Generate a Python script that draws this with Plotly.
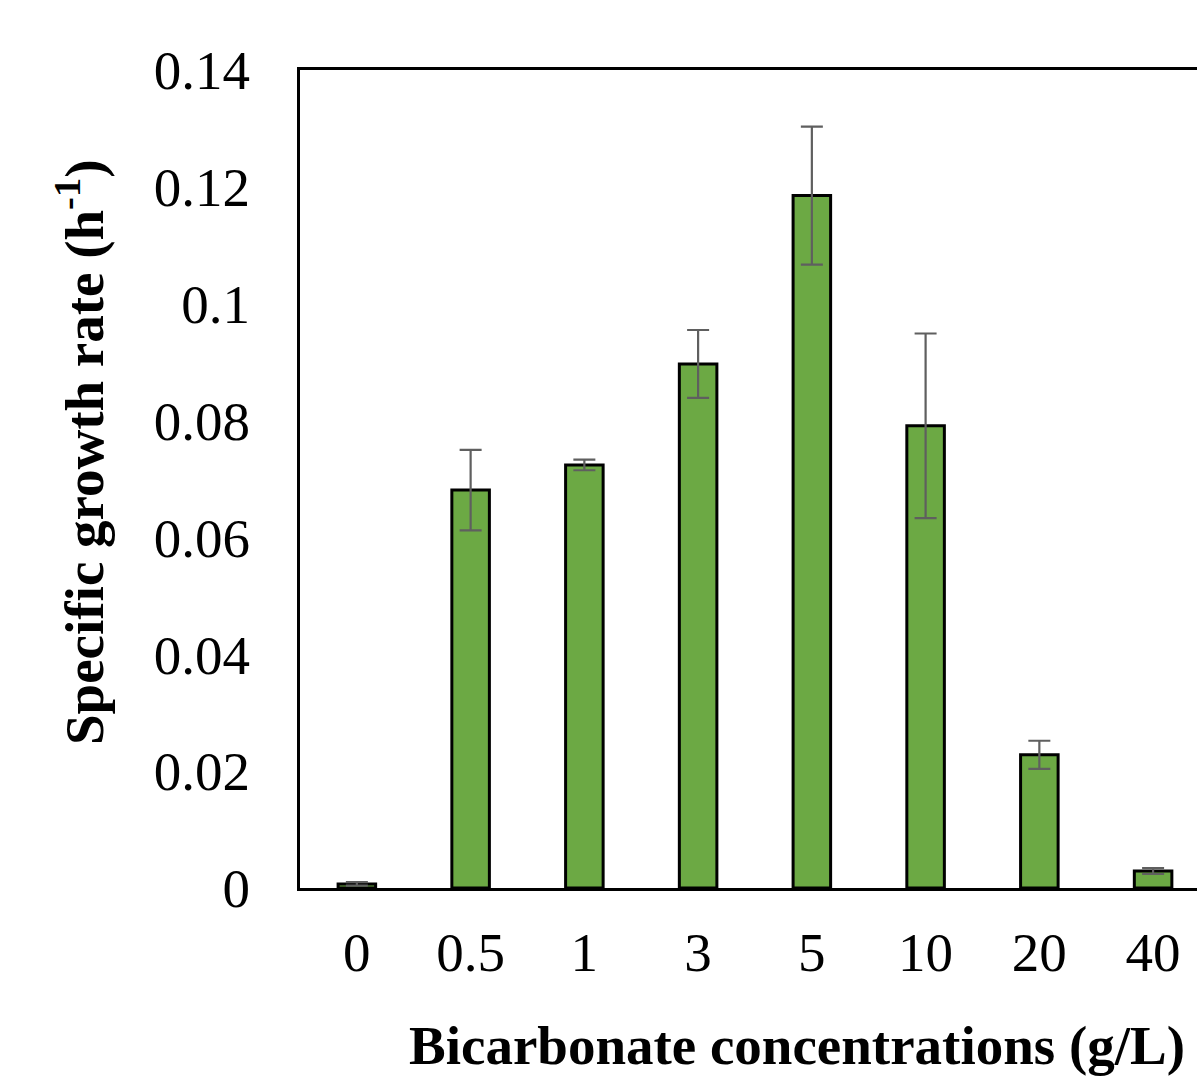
import plotly.graph_objects as go

categories = ["0", "0.5", "1", "3", "5", "10", "20", "40"]
growth_rate = [0.0007, 0.0681, 0.0724, 0.0897, 0.1185, 0.0791, 0.0228, 0.0029]
error = [0.0003, 0.0069, 0.0009, 0.0058, 0.0118, 0.0158, 0.0024, 0.0005]
y_ticks = [0, 0.02, 0.04, 0.06, 0.08, 0.1, 0.12, 0.14]
y_tick_labels = ["0", "0.02", "0.04", "0.06", "0.08", "0.1", "0.12", "0.14"]

FONT = "Liberation Serif"
FS = 55

fig = go.Figure()
fig.add_trace(go.Bar(
    x=list(range(len(categories))),
    y=growth_rate,
    width=0.33,
    marker=dict(color="#6CA944", line=dict(color="#000000", width=3)),
    error_y=dict(type="data", array=error, visible=True, color="#5F5F5F", thickness=2.2, width=11),
))

pw = 1197 - 300
ph = 1078 - 70 - 190

fig.update_layout(
    width=1197, height=1078,
    margin=dict(l=300, r=0, t=70, b=190),
    paper_bgcolor="white", plot_bgcolor="white",
    showlegend=False,
    font=dict(family=FONT, color="#000000", size=FS),
    xaxis=dict(
        range=[-0.5, 7.386],
        tickmode="array",
        tickvals=list(range(len(categories))),
        ticktext=categories,
        showline=True, linecolor="#000000", linewidth=3, mirror=True,
        showgrid=False, zeroline=False, ticks="",
        ticklabelstandoff=14,
        tickfont=dict(family=FONT, size=FS),
    ),
    yaxis=dict(
        range=[0, 0.14],
        tickmode="array",
        tickvals=y_ticks,
        ticktext=y_tick_labels,
        showline=True, linecolor="#000000", linewidth=3, mirror=False,
        showgrid=False, zeroline=False, ticks="",
        ticklabelstandoff=36,
        tickfont=dict(family=FONT, size=FS),
    ),
    annotations=[
        dict(text="<b>Bicarbonate concentrations (g/L)</b>", xref="paper", yref="paper",
             x=(797 - 300) / pw, y=(888 - 1045) / ph, xanchor="center", yanchor="middle",
             showarrow=False, font=dict(family=FONT, size=FS)),
        dict(text="<b>Specific growth rate (h<sup>-1</sup>)</b>", xref="paper", yref="paper",
             x=(80 - 300) / pw, y=(888 - 452) / ph, xanchor="center", yanchor="middle",
             textangle=-90, showarrow=False, font=dict(family=FONT, size=FS)),
    ],
)

fig.write_html("out.html")
